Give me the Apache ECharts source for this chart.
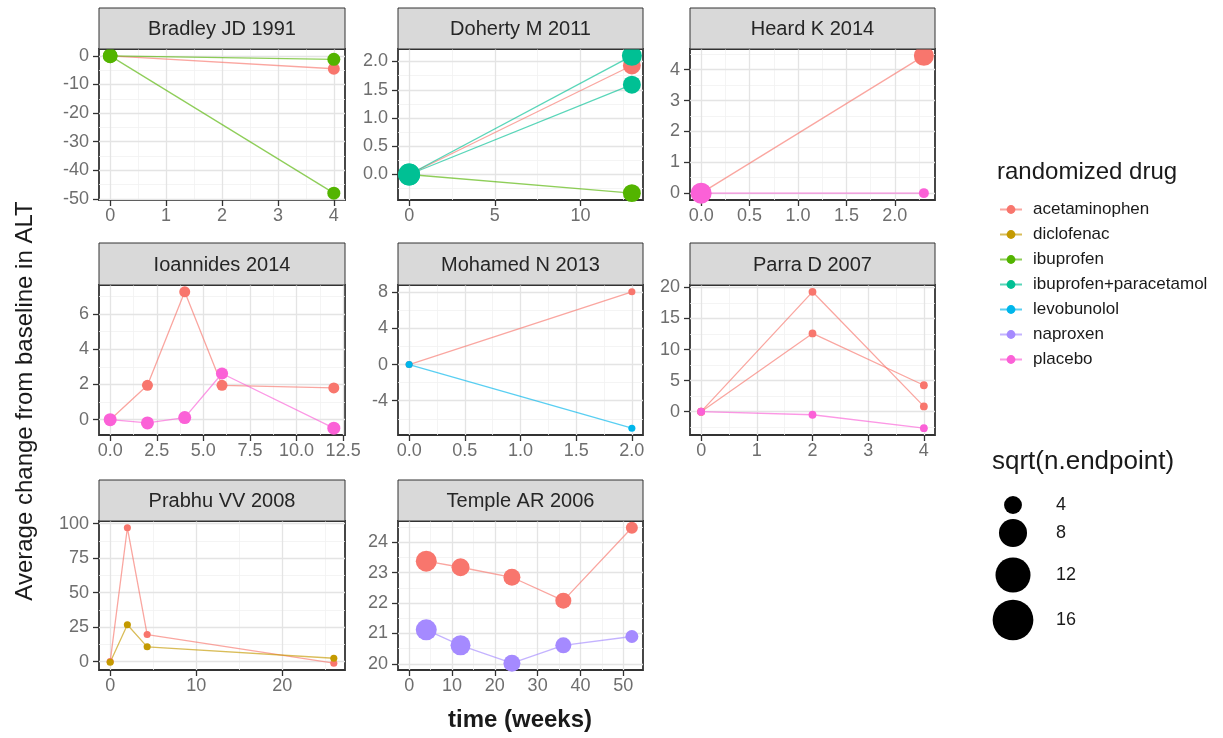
<!DOCTYPE html>
<html><head><meta charset="utf-8">
<script src="https://cdn.jsdelivr.net/npm/echarts@6/dist/echarts.min.js"></script>
<style>html,body{margin:0;padding:0;background:#fff}#c{width:1223px;height:738px}</style>
</head><body><div id="c"></div><script>
// ---------- categories ----------
const drugs = ['acetaminophen','diclofenac','ibuprofen','ibuprofen+paracetamol','levobunolol','naproxen','placebo'];
const studies = ['Bradley JD 1991','Doherty M 2011','Heard K 2014','Ioannides 2014','Mohamed N 2013','Parra D 2007','Prabhu VV 2008','Temple AR 2006'];

// ---------- time points (weeks) ----------
const tBradley = [0, 4];
const tDoherty = [0, 13];
const tHeard = [0, 2.3];
const tIoannides = [0, 2, 4, 6, 12];
const tMohamed = [0, 2];
const tParra = [0, 2, 4];
const tPrabhu = [0, 2, 4.3, 26];
const tTemple = [4, 12, 24, 36, 52];

// ---------- average change from baseline in ALT ----------
const bradleyAcet = [0, -4.5];
const bradleyIbu1 = [0, -1.2];
const bradleyIbu2 = [0, -48];
const dohertyAcet = [0, 1.93];
const dohertyIbu = [0, -0.33];
const dohertyIbuPara1 = [0, 2.1];
const dohertyIbuPara2 = [0, 1.59];
const heardAcet = [0, 4.45];
const heardPlacebo = [0, 0];
const ioannidesAcet = [0, 1.95, 7.25, 1.95, 1.8];
const ioannidesPlacebo = [0, -0.18, 0.12, 2.62, -0.48];
const mohamedAcet = [0, 8.05];
const mohamedLevo = [0, -7.04];
const parraAcet1 = [0, 19.3, 0.85];
const parraAcet2 = [0, 12.6, 4.25];
const parraPlacebo = [0, -0.5, -2.66];
const prabhuAcet = [0, 97, 19.6, -1.2];
const prabhuDiclo = [-0.5, 26.7, 10.7, 2.4];
const templeAcet = [23.38, 23.18, 22.85, 22.08, 24.48];
const templeNaproxen = [21.12, 20.61, 20.02, 20.61, 20.9];

// ---------- sqrt(n.endpoint) per point ----------
const bradleyAcetN = [2.84, 2.66];
const bradleyIbu1N = [3.2, 2.84];
const bradleyIbu2N = [3.2, 2.84];
const dohertyAcetN = [4.0, 4.0];
const dohertyIbuN = [4.0, 4.0];
const dohertyIbuPara1N = [5.3, 4.66];
const dohertyIbuPara2N = [5.3, 4.03];
const heardAcetN = [4.66, 4.66];
const heardPlaceboN = [5.0, 2.37];
const ioannidesAcetN = [2.51, 2.51, 2.51, 2.51, 2.51];
const ioannidesPlaceboN = [2.84, 2.84, 2.84, 2.7, 2.84];
const mohamedAcetN = [2.1, 2.1];
const mohamedLevoN = [2.1, 2.1];
const parraAcet1N = [2.15, 2.15, 2.15];
const parraAcet2N = [2.15, 2.15, 2.15];
const parraPlaceboN = [2.15, 2.15, 2.15];
const prabhuAcetN = [2.1, 2.1, 2.1, 2.1];
const prabhuDicloN = [2.1, 2.1, 2.1, 2.1];
const templeAcetN = [5.0, 4.03, 3.75, 3.5, 2.66];
const templeNaproxenN = [5.0, 4.66, 3.75, 3.5, 2.84];

// ---------- legend breaks ----------
const sizeBreaks = [4, 8, 12, 16];

// ---------- tick labels ----------
const xTickLabels = [
  ['0','1','2','3','4'], ['0','5','10'], ['0.0','0.5','1.0','1.5','2.0'],
  ['0.0','2.5','5.0','7.5','10.0','12.5'], ['0.0','0.5','1.0','1.5','2.0'], ['0','1','2','3','4'],
  ['0','10','20'], ['0','10','20','30','40','50']
];
const yTickLabels = [
  ['-50','-40','-30','-20','-10','0'], ['0.0','0.5','1.0','1.5','2.0'], ['0','1','2','3','4'],
  ['0','2','4','6'], ['-4','0','4','8'], ['0','5','10','15','20'],
  ['0','25','50','75','100'], ['20','21','22','23','24']
];

// arms table: [panel, drug, times, values, sizes]
const arms = [
  [0,'acetaminophen',tBradley,bradleyAcet,bradleyAcetN],
  [0,'ibuprofen',tBradley,bradleyIbu1,bradleyIbu1N],
  [0,'ibuprofen',tBradley,bradleyIbu2,bradleyIbu2N],
  [1,'acetaminophen',tDoherty,dohertyAcet,dohertyAcetN],
  [1,'ibuprofen',tDoherty,dohertyIbu,dohertyIbuN],
  [1,'ibuprofen+paracetamol',tDoherty,dohertyIbuPara1,dohertyIbuPara1N],
  [1,'ibuprofen+paracetamol',tDoherty,dohertyIbuPara2,dohertyIbuPara2N],
  [2,'acetaminophen',tHeard,heardAcet,heardAcetN],
  [2,'placebo',tHeard,heardPlacebo,heardPlaceboN],
  [3,'acetaminophen',tIoannides,ioannidesAcet,ioannidesAcetN],
  [3,'placebo',tIoannides,ioannidesPlacebo,ioannidesPlaceboN],
  [4,'acetaminophen',tMohamed,mohamedAcet,mohamedAcetN],
  [4,'levobunolol',tMohamed,mohamedLevo,mohamedLevoN],
  [5,'acetaminophen',tParra,parraAcet1,parraAcet1N],
  [5,'acetaminophen',tParra,parraAcet2,parraAcet2N],
  [5,'placebo',tParra,parraPlacebo,parraPlaceboN],
  [6,'acetaminophen',tPrabhu,prabhuAcet,prabhuAcetN],
  [6,'diclofenac',tPrabhu,prabhuDiclo,prabhuDicloN],
  [7,'acetaminophen',tTemple,templeAcet,templeAcetN],
  [7,'naproxen',tTemple,templeNaproxen,templeNaproxenN]
];

// ---------- styles / layout ----------
const drugColors = ['#F8766D','#C49A00','#53B400','#00C094','#00B6EB','#A58AFF','#FB61D7'];
const FONT = '"Liberation Sans", Arial, sans-serif';
const cols = [[99,345],[398,643],[690,935]];
const rows = [[8,49,200],[243,285,435],[480,521,670]];
function sizePx(v){ const t = Math.max(0, Math.min(1, (v-2)/15)); return 4 + 38*Math.sqrt(t); }
function expand(lo, hi){ const d = (hi-lo)*0.05; return [lo-d, hi+d]; }
function minors(major, lo, hi){
  const step = major[1]-major[0]; const out = [];
  for (let i=-1;i<major.length;i++){ const m = (i<0? major[0]-step/2 : major[i]+step/2); if (m>=lo && m<=hi) out.push(m); }
  return out;
}

const grids = [], xAxes = [], yAxes = [], graphics = [];
studies.forEach((name, p) => {
  const c = cols[p%3], r = rows[Math.floor(p/3)];
  grids.push({left:c[0], top:r[1], width:c[1]-c[0], height:r[2]-r[1], show:true, borderColor:'#333', borderWidth:1.8, backgroundColor:'#fff', containLabel:false});
  const pa = arms.filter(a => a[0]===p);
  const xs = [].concat(...pa.map(a=>a[2])), ys = [].concat(...pa.map(a=>a[3]));
  const xr = expand(Math.min(0, ...xs), Math.max(...xs));
  const yr = expand(Math.min(...ys), Math.max(...ys));
  const mk = (rng, labels, isX) => {
    const ticks = labels.map(Number);
    const main = {
      type:'value', gridIndex:p, min:rng[0], max:rng[1], z:3,
      axisLine:{show:false, onZero:false},
      axisTick:{show:true, length:6, customValues:ticks, lineStyle:{color:'#333', width:1.3}},
      axisLabel:{show:true, customValues:ticks, interval:0, margin: isX?7:10, fontSize:18, color:'#6e6e6e', fontFamily:FONT,
        formatter:(v)=>{ const i = ticks.findIndex(t=>Math.abs(t-v)<1e-7); return i<0?'':labels[i]; }},
      splitLine:{show:true, lineStyle:{color:'#E4E4E4', width:1.3}}
    };
    const minor = {
      type:'value', gridIndex:p, min:rng[0], max:rng[1], z:1,
      axisLine:{show:false, onZero:false},
      axisTick:{show:false, customValues:minors(ticks, rng[0], rng[1])},
      axisLabel:{show:false},
      splitLine:{show:true, lineStyle:{color:'#F1F1F1', width:0.8}}
    };
    return [main, minor];
  };
  xAxes.push(...mk(xr, xTickLabels[p], true));
  yAxes.push(...mk(yr, yTickLabels[p], false));
  graphics.push({type:'rect', z:10, shape:{x:c[0], y:r[0], width:c[1]-c[0], height:r[1]-r[0]}, style:{fill:'#D9D9D9', stroke:'#333', lineWidth:1}});
  graphics.push({type:'text', z:11, x:(c[0]+c[1])/2, y:(r[0]+r[1])/2+1, style:{text:name, fontSize:20, fontFamily:FONT, fill:'#262626', align:'center', verticalAlign:'middle'}});
});

const series = arms.map(a => {
  const col = drugColors[drugs.indexOf(a[1])];
  return {
    type:'line', name:a[1], xAxisIndex:2*a[0], yAxisIndex:2*a[0],
    data:a[2].map((t,i)=>[t, a[3][i], a[4][i]]),
    symbol:'circle', symbolSize:(v)=>sizePx(v[2]), showSymbol:true, showAllSymbol:true,
    itemStyle:{color:col, borderWidth:0},
    lineStyle:{color:col, width:1.3, opacity:0.65},
    emphasis:{disabled:true}, z:4
  };
});

// axis titles
graphics.push({type:'text', x:25, y:401, rotation:Math.PI/2, style:{text:'Average change from baseline in ALT', fontSize:24, fontFamily:FONT, fill:'#1a1a1a', align:'center', verticalAlign:'middle'}});
graphics.push({type:'text', x:520, y:720, style:{text:'time (weeks)', fontSize:24, fontWeight:'bold', fontFamily:FONT, fill:'#1a1a1a', align:'center', verticalAlign:'middle'}});
// legend titles
graphics.push({type:'text', x:997, y:172, style:{text:'randomized drug', fontSize:24, fontFamily:FONT, fill:'#1a1a1a', align:'left', verticalAlign:'middle'}});
graphics.push({type:'text', x:992, y:462, style:{text:'sqrt(n.endpoint)', fontSize:26, fontFamily:FONT, fill:'#1a1a1a', align:'left', verticalAlign:'middle'}});
const sizeKeyY = [505, 533, 575, 620];
sizeBreaks.forEach((b, i) => {
  graphics.push({type:'circle', shape:{cx:1013, cy:sizeKeyY[i], r:sizePx(b)/2}, style:{fill:'#000'}});
  graphics.push({type:'text', x:1056, y:sizeKeyY[i], style:{text:String(b), fontSize:18, fontFamily:FONT, fill:'#1a1a1a', align:'left', verticalAlign:'middle'}});
});

const chart = echarts.init(document.getElementById('c'), null, {renderer:'canvas'});
chart.setOption({
  animation:false,
  backgroundColor:'#fff',
  grid:grids, xAxis:xAxes, yAxis:yAxes, series:series,
  legend:{data:drugs, orient:'vertical', left:999, top:201, padding:0, itemWidth:22, itemHeight:11, itemGap:8,
    selectedMode:false, lineStyle:{width:2},
    textStyle:{fontSize:17, lineHeight:17, color:'#1a1a1a', fontFamily:FONT, padding:[0,0,0,6]}},
  graphic:graphics
});
</script></body></html>
